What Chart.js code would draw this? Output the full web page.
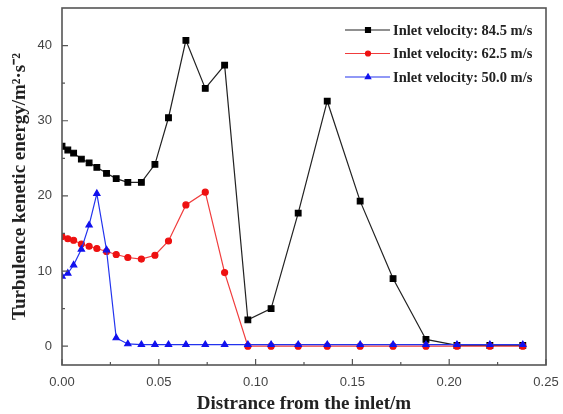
<!DOCTYPE html>
<html>
<head>
<meta charset="utf-8">
<script src="https://cdn.jsdelivr.net/npm/chart.js@4.4.1/dist/chart.umd.min.js"></script>
<style>
    html, body { margin: 0; padding: 0; background: #fff; }
    #tkeChart { display: block; }
</style>
</head>
<body>
<canvas id="tkeChart" width="563" height="414"></canvas>
<script>
// Distance from inlet (m), shared by all three series
const distance = [0, 0.003, 0.006, 0.010, 0.014, 0.018, 0.023, 0.028, 0.034, 0.041, 0.048, 0.055, 0.064,
    0.074, 0.084, 0.096, 0.108, 0.122, 0.137, 0.154, 0.171, 0.188, 0.204, 0.221, 0.238];

// Turbulence kinetic energy for each inlet velocity
const tke845 = [26.6, 26.1, 25.7, 24.9, 24.4, 23.8, 23.0, 22.3, 21.8, 21.8, 24.2, 30.4, 40.7,
    34.3, 37.4, 3.5, 5.0, 17.7, 32.6, 19.3, 9.0, 0.9, 0.1, 0.1, 0.1];
const tke625 = [14.6, 14.3, 14.1, 13.6, 13.3, 13.0, 12.6, 12.2, 11.8, 11.6, 12.1, 14.0, 18.8,
    20.5, 9.8, 0, 0, 0, 0, 0, 0, 0, 0, 0, 0];
const tke500 = [9.3, 9.7, 10.8, 12.9, 16.1, 20.3, 12.8, 1.1, 0.3, 0.2, 0.2, 0.2, 0.2,
    0.2, 0.2, 0.2, 0.2, 0.2, 0.2, 0.2, 0.2, 0.2, 0.2, 0.2, 0.2];

const seriesLabels = ['Inlet velocity: 84.5 m/s', 'Inlet velocity: 62.5 m/s', 'Inlet velocity: 50.0 m/s'];

// Axis ticks
const xTicks = [0, 0.05, 0.10, 0.15, 0.20, 0.25];
const xMinorTicks = [0.025, 0.075, 0.125, 0.175, 0.225];
const yTicks = [0, 10, 20, 30, 40];
const yMinorTicks = [5, 15, 25, 35];

const serif = "'Liberation Serif', 'Times New Roman', serif";
const sans = "'Liberation Sans', Arial, sans-serif";

function toPoints(ys) {
    return distance.map((x, i) => ({ x: x, y: ys[i] }));
}

// drop the label overhang padding so the plot box sits where the original is
function noOverhang(scale) {
    scale.paddingTop = 0;
    scale.paddingBottom = 0;
    scale.paddingLeft = 0;
    scale.paddingRight = 0;
}

// Frame, inward tick marks and the in-plot legend
const framePlugin = {
    id: 'frame',
    afterDraw(chart) {
        const ctx = chart.ctx;
        const area = chart.chartArea;
        const xs = chart.scales.x;
        const ys = chart.scales.y;

        ctx.save();
        ctx.strokeStyle = '#555';
        ctx.lineWidth = 1.6;
        ctx.strokeRect(area.left, area.top, area.right - area.left, area.bottom - area.top);

        ctx.lineWidth = 1.2;
        ctx.beginPath();
        xTicks.forEach(v => {
            const px = xs.getPixelForValue(v);
            ctx.moveTo(px, area.bottom); ctx.lineTo(px, area.bottom - 6);
        });
        xMinorTicks.forEach(v => {
            const px = xs.getPixelForValue(v);
            ctx.moveTo(px, area.bottom); ctx.lineTo(px, area.bottom - 3);
        });
        yTicks.forEach(v => {
            const py = ys.getPixelForValue(v);
            ctx.moveTo(area.left, py); ctx.lineTo(area.left + 6, py);
        });
        yMinorTicks.forEach(v => {
            const py = ys.getPixelForValue(v);
            ctx.moveTo(area.left, py); ctx.lineTo(area.left + 3, py);
        });
        ctx.stroke();

        // legend
        chart.data.datasets.forEach((ds, i) => {
            const y = 30 + i * 23.5;
            ctx.strokeStyle = ds.borderColor;
            ctx.lineWidth = 1.2;
            ctx.beginPath();
            ctx.moveTo(345, y); ctx.lineTo(390, y);
            ctx.stroke();
            ctx.fillStyle = ds.pointBackgroundColor;
            ctx.strokeStyle = ds.pointBorderColor;
            Chart.helpers.drawPoint(ctx, {
                pointStyle: ds.pointStyle,
                radius: ds.pointRadius - 0.5,
                borderWidth: 1
            }, 368, y);
            ctx.fillStyle = '#222';
            ctx.font = 'bold 14.5px ' + serif;
            ctx.textBaseline = 'middle';
            ctx.textAlign = 'left';
            ctx.fillText(ds.label, 393, y + 1);
        });
        ctx.restore();
    }
};

function createChart() {
    const ctx = document.getElementById('tkeChart');
    if (!ctx) return;

    new Chart(ctx, {
        type: 'line',
        data: {
            datasets: [
                {
                    label: seriesLabels[0],
                    data: toPoints(tke845),
                    borderColor: '#222',
                    pointBackgroundColor: '#000',
                    pointBorderColor: '#000',
                    pointStyle: 'rect',
                    pointRadius: 4,
                    borderWidth: 1.2,
                    order: 3
                },
                {
                    label: seriesLabels[1],
                    data: toPoints(tke625),
                    borderColor: '#f03c3c',
                    pointBackgroundColor: '#ee1111',
                    pointBorderColor: '#ee1111',
                    pointStyle: 'circle',
                    pointRadius: 3,
                    borderWidth: 1.2,
                    order: 2
                },
                {
                    label: seriesLabels[2],
                    data: toPoints(tke500),
                    borderColor: '#2233ee',
                    pointBackgroundColor: '#1111ee',
                    pointBorderColor: '#1111ee',
                    pointStyle: 'triangle',
                    pointRadius: 3.6,
                    borderWidth: 1.2,
                    order: 1
                }
            ]
        },
        options: {
            responsive: false,
            animation: false,
            layout: {
                padding: { top: 8, right: 17, left: 0, bottom: 0 }
            },
            plugins: {
                legend: { display: false },
                tooltip: { enabled: false }
            },
            scales: {
                x: {
                    type: 'linear',
                    min: 0,
                    max: 0.25,
                    afterFit: scale => { scale.height = 49; noOverhang(scale); },
                    afterBuildTicks: scale => { scale.ticks = xTicks.map(v => ({ value: v })); },
                    grid: { display: false, drawTicks: false },
                    border: { display: false },
                    ticks: {
                        padding: 10,
                        color: '#444',
                        font: { family: sans, size: 13 },
                        maxRotation: 0,
                        callback: v => v.toFixed(2)
                    },
                    title: {
                        display: true,
                        text: 'Distrance from the inlet/m',
                        color: '#222',
                        font: { family: serif, size: 19, weight: 'bold', lineHeight: 1 },
                        padding: { top: 0, bottom: 0 }
                    }
                },
                y: {
                    min: -2.5,
                    max: 45,
                    afterFit: scale => { scale.width = 62; noOverhang(scale); },
                    afterBuildTicks: scale => { scale.ticks = yTicks.map(v => ({ value: v })); },
                    grid: { display: false, drawTicks: false },
                    border: { display: false },
                    ticks: {
                        padding: 10,
                        color: '#444',
                        font: { family: sans, size: 13 }
                    },
                    title: {
                        display: true,
                        text: 'Turbulence kenetic energy/m\u00B2\u00B7s\u207B\u00B2',
                        color: '#222',
                        font: { family: serif, size: 19, weight: 'bold', lineHeight: 1 },
                        padding: { top: 11, bottom: 0 }
                    }
                }
            }
        },
        plugins: [framePlugin]
    });
}

createChart();
</script>
</body>
</html>
